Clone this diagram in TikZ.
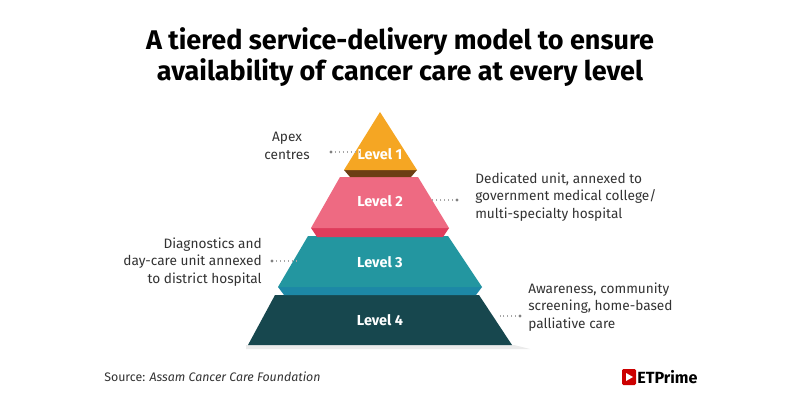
\documentclass[tikz,border=0pt]{standalone}
\usepackage{fontspec}
\setmainfont{Fira Sans}
\usetikzlibrary{positioning}
\definecolor{tierA}{HTML}{F5A623}
\definecolor{tierAs}{HTML}{6B3E14}
\definecolor{tierB}{HTML}{EE6A82}
\definecolor{tierBs}{HTML}{DF3C5C}
\definecolor{tierC}{HTML}{2396A0}
\definecolor{tierCs}{HTML}{1D88A6}
\definecolor{tierD}{HTML}{17474E}
\definecolor{note}{HTML}{333333}

\begin{document}
\begin{tikzpicture}[x=0.025cm,y=-0.025cm,
  lvl/.style={text=white,font=\bfseries\fontsize{10.3}{12}\selectfont},
  info/.style={text=note,font=\fontsize{9.7}{12.6}\selectfont,inner sep=0pt},
  lead/.style={draw=gray!70,dotted,line width=0.8pt}]
  \useasboundingbox (0,0) rectangle (800,400);
  \fill[white] (0,0) rectangle (800,400);
  \node[font=\bfseries\fontsize{19.2}{22.5}\selectfont,align=center] (title) at (400,57)
    {A tiered service-delivery model to ensure\\availability of cancer care at every level};

  % tiers
  \fill[black!8] (246,345) -- (514,345) -- (530,349) -- (246,349) -- cycle;
  \fill[tierD] (275,295) -- (479,295) -- (512,345) -- (248,345) -- cycle;
  \fill[tierCs] (278,287) -- (482,287) -- (476,295) -- (284,295) -- cycle;
  \fill[tierC] (308,236) -- (448,236) -- (482,287) -- (278,287) -- cycle;
  \fill[tierBs] (311,228) -- (449,228) -- (443,237) -- (317,237) -- cycle;
  \fill[tierB] (340,177) -- (418,177) -- (449,228) -- (311,228) -- cycle;
  \fill[tierAs] (344,170) -- (417,170) -- (411,177) -- (350,177) -- cycle;
  \fill[tierA] (380,112) -- (417,170) -- (344,170) -- cycle;

  \node[lvl] (l1) at (380,154) {Level 1};
  \node[lvl] (l2) at (380,201) {Level 2};
  \node[lvl] (l3) at (380,262) {Level 3};
  \node[lvl] (l4) at (380,320) {Level 4};

  % notes
  \node[info,align=center] (n1) at (287,146) {Apex\\centres};
  \node[info,align=left,anchor=west] (n2) at (475,197) {Dedicated unit, annexed to\\government medical college/\\multi-specialty hospital};
  \node[info,align=right,anchor=east] (n3) at (262,262) {Diagnostics and\\day-care unit annexed\\to district hospital};
  \node[info,align=left,anchor=west] (n4) at (528,307) {Awareness, community\\screening, home-based\\palliative care};

  \coordinate (d1) at (331,152);  \coordinate (e1) at (362,152);
  \coordinate (d2) at (457,200);  \coordinate (e2) at (432,200);
  \coordinate (d3) at (272,261);  \coordinate (e3) at (298,261);
  \coordinate (d4) at (520,316);  \coordinate (e4) at (500,316);
  \foreach \i in {1,...,4} {
    \draw[lead] (d\i) -- (e\i);
    \fill[gray] (d\i) circle (1.6);
  }

  % footer
  \node[info,anchor=west,font=\fontsize{8.8}{10}\selectfont] (src) at (104,377) {Source: \textit{Assam Cancer Care Foundation}};
  \fill[red!80!black,rounded corners=1pt] (622,369) rectangle (636,385);
  \fill[white] (626,373) -- (633,377) -- (626,381) -- cycle;
  \node[anchor=west,inner sep=0pt,font=\bfseries\fontsize{11.5}{12}\selectfont] (logo) at (637,377) {ETPrime};
\end{tikzpicture}
\end{document}
